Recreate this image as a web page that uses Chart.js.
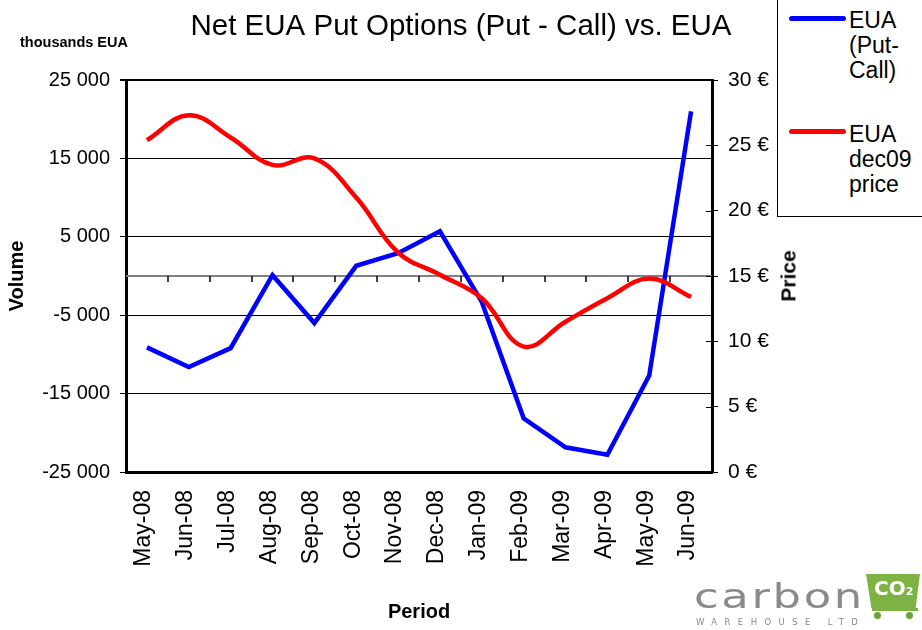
<!DOCTYPE html>
<html>
<head>
<meta charset="utf-8">
<script src="https://cdn.jsdelivr.net/npm/chart.js@4/dist/chart.umd.min.js"></script>
<style>
  html, body { margin:0; padding:0; background:#fff; }
  #wrap { position:relative; width:922px; height:630px; overflow:hidden; font-family:'Liberation Sans', Arial, sans-serif; }
  #c { position:absolute; left:0; top:0; }
  .abs { position:absolute; white-space:nowrap; }
  #legend { position:absolute; left:777px; top:-1px; width:160px; height:218px; border:1px solid #000; background:#fff; box-sizing:border-box; }
  .lg-line { position:absolute; left:11px; width:57px; height:5px; border-radius:3px; }
  .lg-text { position:absolute; left:71px; font-size:23px; line-height:25px; color:#000; }
</style>
</head>
<body>
<div id="wrap">
  <canvas id="c" width="922" height="630"></canvas>
  <div class="abs" style="left:20px; top:35px; font-weight:bold; font-size:14.5px; line-height:1; color:#000;">thousands EUA</div>
  <div class="abs" style="left:788px; top:276px; transform:translate(-50%,-50%) rotate(-90deg); font-weight:bold; font-size:21px; line-height:1; color:#000;">Price</div>
  <div id="legend">
    <div class="lg-line" style="top:16px; background:#0000ff;"></div>
    <div class="lg-text" style="top:8px;">EUA<br>(Put-<br>Call)</div>
    <div class="lg-line" style="top:129px; background:#ff0000;"></div>
    <div class="lg-text" style="top:122px;">EUA<br>dec09<br>price</div>
  </div>
  <div id="logo">
    <div class="abs" style="left:694px; top:579px; font-family:'DejaVu Sans'; font-weight:normal; font-size:34px; line-height:1; letter-spacing:2px; color:#8a8a8a; transform:scaleX(1.32); transform-origin:left top;">carbon</div>
    <div class="abs" style="left:696px; top:618px; font-family:'DejaVu Sans'; font-size:8.5px; line-height:1; letter-spacing:7.4px; color:#8a8a8a;">WAREHOUSE LTD</div>
    <div class="abs" style="left:866px; top:574px; width:54px; height:34px; background:#7cb342; clip-path:polygon(0 0,100% 0,92% 100%,10% 100%);"></div>
    <div class="abs" style="left:874px; top:578px; font-family:'DejaVu Sans'; font-weight:bold; font-size:20px; line-height:1; color:#fff;">CO<span style="font-size:11px;">2</span></div>
    <div class="abs" style="left:872px; top:608px; width:46px; height:3px; background:#7cb342;"></div>
    <div class="abs" style="left:874px; top:612px; width:7px; height:7px; border-radius:50%; background:#6aa336;"></div>
    <div class="abs" style="left:906px; top:612px; width:7px; height:7px; border-radius:50%; background:#6aa336;"></div>
  </div>
</div>
<script>
// ---- data ----
const categories = ['May-08','Jun-08','Jul-08','Aug-08','Sep-08','Oct-08','Nov-08','Dec-08','Jan-09','Feb-09','Mar-09','Apr-09','May-09','Jun-09'];
const netPutCall = [-9100, -11600, -9200, 100, -6000, 1300, 2900, 5700, -3300, -18150, -21850, -22800, -12700, 21000];
const euaDec09Price = [25.4, 27.3, 25.6, 23.5, 24.0, 21.0, 16.8, 15.1, 13.3, 9.6, 11.5, 13.3, 14.8, 13.4];
const volumeTicks = [-25000, -15000, -5000, 5000, 15000, 25000];
const priceTicks = [0, 5, 10, 15, 20, 25, 30];
const chartTitle = 'Net EUA Put Options (Put - Call) vs. EUA';
const seriesNames = ['EUA (Put-Call)', 'EUA dec09 price'];

function fmtVol(v) {
  const s = Math.abs(v).toString().replace(/\B(?=(\d{3})+(?!\d))/g, ' ');
  return (v < 0 ? '-' : '') + s;
}

Chart.defaults.font.family = "'Liberation Sans', Arial, sans-serif";
Chart.defaults.color = '#000';

const extras = {
  id: 'extras',
  beforeDatasetsDraw(chart) {
    const { ctx, chartArea: a, scales } = chart;
    const x = scales.x, yV = scales.yV;
    const y0 = Math.round(yV.getPixelForValue(0));
    ctx.save();
    ctx.strokeStyle = '#808080';
    ctx.lineWidth = 2;
    ctx.beginPath(); ctx.moveTo(a.left, y0); ctx.lineTo(a.right, y0); ctx.stroke();
    ctx.strokeStyle = '#000';
    ctx.lineWidth = 1.5;
    for (let i = 0; i < categories.length - 1; i++) {
      const bx = Math.round((x.getPixelForValue(i) + x.getPixelForValue(i + 1)) / 2);
      ctx.beginPath(); ctx.moveTo(bx, y0); ctx.lineTo(bx, y0 + 6); ctx.stroke();
    }
    ctx.restore();
  },
  afterDraw(chart) {
    const { ctx, chartArea: a, scales } = chart;
    const yP = scales.yP;
    ctx.save();
    ctx.strokeStyle = '#000';
    ctx.lineWidth = 1;
    priceTicks.forEach(v => {
      const y = Math.round(yP.getPixelForValue(v)) + 0.5;
      ctx.beginPath(); ctx.moveTo(a.right - 6, y); ctx.lineTo(a.right, y); ctx.stroke();
    });
    ctx.restore();
  }
};

new Chart(document.getElementById('c'), {
  type: 'line',
  data: {
    labels: categories,
    datasets: [
      {
        label: seriesNames[0],
        data: netPutCall,
        yAxisID: 'yV',
        borderColor: '#0000ff',
        borderWidth: 4.5,
        pointRadius: 0,
        tension: 0,
        fill: false,
        order: 2
      },
      {
        label: seriesNames[1],
        data: euaDec09Price,
        yAxisID: 'yP',
        borderColor: '#ff0000',
        borderWidth: 4.5,
        pointRadius: 0,
        tension: 0.4,
        fill: false,
        order: 1
      }
    ]
  },
  options: {
    responsive: false,
    devicePixelRatio: 1,
    animation: false,
    layout: { padding: 0 },
    plugins: {
      legend: { display: false },
      tooltip: { enabled: false },
      title: {
        display: true,
        text: chartTitle,
        color: '#000',
        font: { size: 29.5, weight: 'normal', lineHeight: 1.2 },
        padding: { top: 9.3, bottom: 35.3 }
      }
    },
    scales: {
      x: {
        type: 'category',
        offset: true,
        grid: { display: false, drawTicks: false },
        border: { display: true, color: '#000', width: 3 },
        ticks: {
          autoSkip: false,
          minRotation: 90,
          maxRotation: 90,
          padding: 18,
          labelOffset: -3,
          color: '#000',
          font: { size: 23 }
        },
        title: {
          display: true,
          text: 'Period',
          color: '#000',
          font: { size: 20, weight: 'bold', lineHeight: 1.2 },
          padding: { top: 0, bottom: 6 }
        },
        afterFit(s) { s.height = 158; }
      },
      yV: {
        type: 'linear',
        position: 'left',
        min: -25000,
        max: 25000,
        afterBuildTicks(s) { s.ticks = volumeTicks.map(v => ({ value: v })); },
        grid: {
          color: '#000',
          lineWidth: ctx => (ctx.tick && ctx.tick.value === 25000 ? 2 : 1),
          tickColor: '#000',
          tickLength: 6,
          drawTicks: true
        },
        border: { display: true, color: '#000', width: 3 },
        ticks: {
          padding: 10,
          color: '#000',
          font: { size: 20 },
          callback: v => fmtVol(v)
        },
        title: {
          display: true,
          text: 'Volume',
          color: '#000',
          font: { size: 20, weight: 'bold', lineHeight: 1.2 },
          padding: { top: 5.5, bottom: 0 }
        },
        afterFit(s) { s.width = 126; }
      },
      yP: {
        type: 'linear',
        position: 'right',
        min: 0,
        max: 30,
        afterBuildTicks(s) { s.ticks = priceTicks.map(v => ({ value: v })); },
        grid: {
          drawOnChartArea: false,
          color: '#000',
          tickColor: '#000',
          tickLength: 6,
          drawTicks: true
        },
        border: { display: true, color: '#000', width: 3 },
        ticks: {
          padding: 10,
          color: '#000',
          font: { size: 21 },
          callback: v => v + ' €'
        },
        afterFit(s) { s.width = 210; }
      }
    }
  },
  plugins: [extras]
});
</script>
</body>
</html>
